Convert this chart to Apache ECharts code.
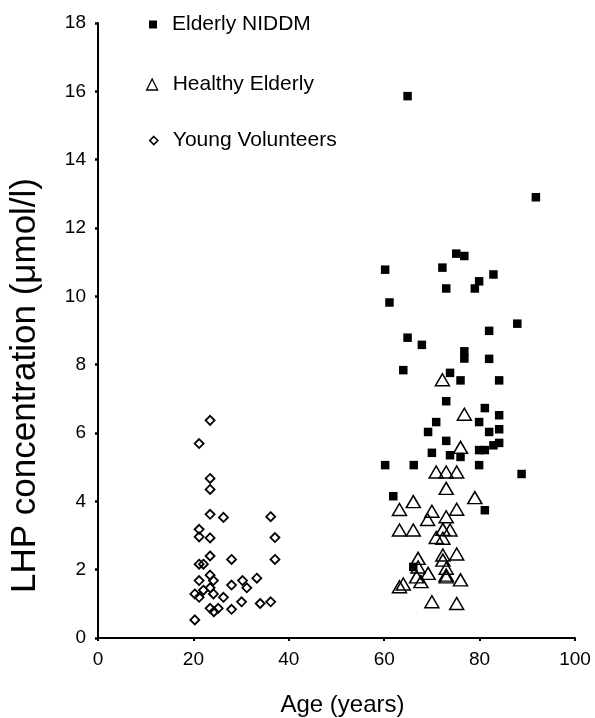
<!DOCTYPE html>
<html>
<head>
<meta charset="utf-8">
<script src="https://cdn.jsdelivr.net/npm/echarts@6.0.0/dist/echarts.min.js"></script>
<style>
  html, body { margin: 0; padding: 0; background: #fff; }
  #chart { width: 595px; height: 718px; }
</style>
</head>
<body>
<div id="chart"></div>
<script>
// values
var niddmAge = [64.9, 91.8, 75.1, 76.8, 60.2, 72.2, 82.9, 79.9, 73.0, 79.0,
                61.1, 87.9, 82.0, 64.9, 67.9, 76.8, 76.8, 82.0, 64.0, 73.8,
                76.0, 84.1, 73.0, 81.1, 84.1, 70.9, 79.9, 69.2, 82.0, 84.1,
                73.0, 84.1, 82.9, 79.9, 81.1, 70.0, 73.8, 76.0, 60.2, 66.2,
                79.9, 88.8, 61.9, 81.1, 66.1];
var niddmLhp = [15.86, 12.90, 11.25, 11.18, 10.78, 10.84, 10.64, 10.44, 10.23, 10.23,
                9.82, 9.20, 8.99, 8.79, 8.58, 8.39, 8.18, 8.17, 7.84, 7.76,
                7.54, 7.54, 6.93, 6.73, 6.52, 6.32, 6.32, 6.03, 6.03, 6.11,
                5.77, 5.71, 5.64, 5.50, 5.50, 5.42, 5.35, 5.30, 5.06, 5.06,
                5.06, 4.80, 4.15, 3.74, 2.08];

var healthyAge = [72.2, 76.8, 76.0, 70.9, 73.0, 75.2, 73.0, 79.0, 63.2, 66.1,
                  70.0, 75.2, 69.1, 73.0, 63.2, 66.1, 73.8, 72.3, 70.9, 72.3,
                  72.3, 75.2, 67.1, 72.3, 67.1, 69.2, 73.0, 73.0, 66.8, 67.7,
                  73.0, 76.0, 63.2, 64.0, 70.0, 75.2];
var healthyLhp = [7.56, 6.55, 5.58, 4.86, 4.86, 4.86, 4.38, 4.11, 3.76, 3.99,
                  3.71, 3.77, 3.47, 3.55, 3.16, 3.16, 3.16, 3.18, 2.94, 2.92,
                  2.43, 2.46, 2.33, 2.28, 2.08, 1.89, 2.04, 1.84, 1.79, 1.65,
                  1.79, 1.70, 1.50, 1.58, 1.06, 1.01];

var youngAge = [23.5, 21.2, 23.5, 23.5, 23.5, 26.3, 36.2, 21.2, 21.2, 23.5,
                37.1, 23.5, 28.0, 37.1, 21.2, 22.1, 23.5, 21.2, 24.2, 30.3,
                33.3, 28.0, 31.2, 22.1, 23.5, 20.3, 21.2, 24.2, 26.3, 23.5,
                24.3, 25.2, 28.0, 30.1, 34.0, 36.2, 20.3];
var youngLhp = [6.37, 5.69, 4.67, 4.35, 3.62, 3.53, 3.55, 3.18, 2.96, 2.93,
                2.94, 2.40, 2.30, 2.30, 2.16, 2.16, 1.84, 1.68, 1.68, 1.68,
                1.75, 1.55, 1.47, 1.40, 1.47, 1.29, 1.19, 1.29, 1.19, 0.87,
                0.77, 0.87, 0.84, 1.06, 1.01, 1.06, 0.53];

var xTicks = [0, 20, 40, 60, 80, 100];
var yTicks = [0, 2, 4, 6, 8, 10, 12, 14, 16, 18];

function pairs(xs, ys) {
    var out = [];
    for (var i = 0; i < xs.length; i++) out.push([xs[i], ys[i]]);
    return out;
}

var FONT = 'Liberation Sans';
var myChart = echarts.init(document.getElementById('chart'), null, {renderer: 'canvas'});

var option = {
    backgroundColor: '#fff',
    animation: false,
    textStyle: {fontFamily: FONT, color: '#000'},
    grid: {left: 98, right: 20, top: 23, bottom: 80, outerBoundsMode: 'none', containLabel: false},
    legend: [
        {   // square
            data: ['Elderly NIDDM'],
            left: 149, top: 14, padding: 0,
            itemWidth: 28, itemHeight: 8,
            icon: 'path://M0,0L10,0L10,10L0,10Z',
            itemStyle: {color: '#000', borderWidth: 0},
            textStyle: {fontFamily: FONT, fontSize: 21, color: '#000'}
        },
        {   // triangle
            data: ['Healthy Elderly'],
            left: 146, top: 74, padding: 0,
            itemWidth: 31, itemHeight: 11,
            icon: 'path://M5,0L10,10L0,10Z',
            itemStyle: {color: 'rgba(0,0,0,0)', borderColor: '#000', borderWidth: 1.3},
            textStyle: {fontFamily: FONT, fontSize: 21, color: '#000'}
        },
        {   // diamond
            data: ['Young Volunteers'],
            left: 149, top: 130, padding: 0,
            itemWidth: 28, itemHeight: 8,
            icon: 'path://M5,0L10,5L5,10L0,5Z',
            itemStyle: {color: 'rgba(0,0,0,0)', borderColor: '#000', borderWidth: 1.6},
            textStyle: {fontFamily: FONT, fontSize: 21, color: '#000'}
        }
    ],
    xAxis: {
        type: 'value',
        min: 0, max: 100, interval: 20,
        name: 'Age (years)',
        nameLocation: 'middle',
        nameGap: 55,
        nameTextStyle: {fontFamily: FONT, fontSize: 24, color: '#000', padding: [0, 0, 0, 12]},
        axisLine: {show: true, onZero: false, lineStyle: {color: '#000', width: 2}},
        axisTick: {show: true, inside: false, length: 3, lineStyle: {color: '#000', width: 2}},
        axisLabel: {margin: 12, fontFamily: FONT, fontSize: 19, color: '#000',
            formatter: function (v) { return xTicks.indexOf(v) >= 0 ? String(v) : ''; }},
        splitLine: {show: false}
    },
    yAxis: {
        type: 'value',
        min: 0, max: 18, interval: 2,
        name: 'LHP concentration (\u03bcmol/l)',
        nameLocation: 'middle',
        nameGap: 55,
        nameRotate: 90,
        nameTextStyle: {fontFamily: FONT, fontSize: 35, color: '#000', padding: [0, 110, 0, 0]},
        axisLine: {show: true, onZero: false, lineStyle: {color: '#000', width: 2}},
        axisTick: {show: true, inside: false, length: 3, lineStyle: {color: '#000', width: 2.5}},
        axisLabel: {margin: 12, fontFamily: FONT, fontSize: 19, color: '#000',
            formatter: function (v) { return yTicks.indexOf(v) >= 0 ? String(v) : ''; }},
        splitLine: {show: false}
    },
    series: [
        {
            name: 'Young Volunteers',
            type: 'scatter',
            symbol: 'diamond',
            symbolSize: 9,
            itemStyle: {color: 'rgba(0,0,0,0)', borderColor: '#000', borderWidth: 1.8, opacity: 1},
            data: pairs(youngAge, youngLhp)
        },
        {
            name: 'Healthy Elderly',
            type: 'scatter',
            symbol: 'triangle',
            symbolSize: [14, 12],
            itemStyle: {color: 'rgba(0,0,0,0)', borderColor: '#000', borderWidth: 1.5, opacity: 1},
            data: pairs(healthyAge, healthyLhp)
        },
        {
            name: 'Elderly NIDDM',
            type: 'scatter',
            symbol: 'rect',
            symbolSize: 8.5,
            itemStyle: {color: '#000', opacity: 1},
            data: pairs(niddmAge, niddmLhp)
        }
    ]
};

myChart.setOption(option);
</script>
</body>
</html>
